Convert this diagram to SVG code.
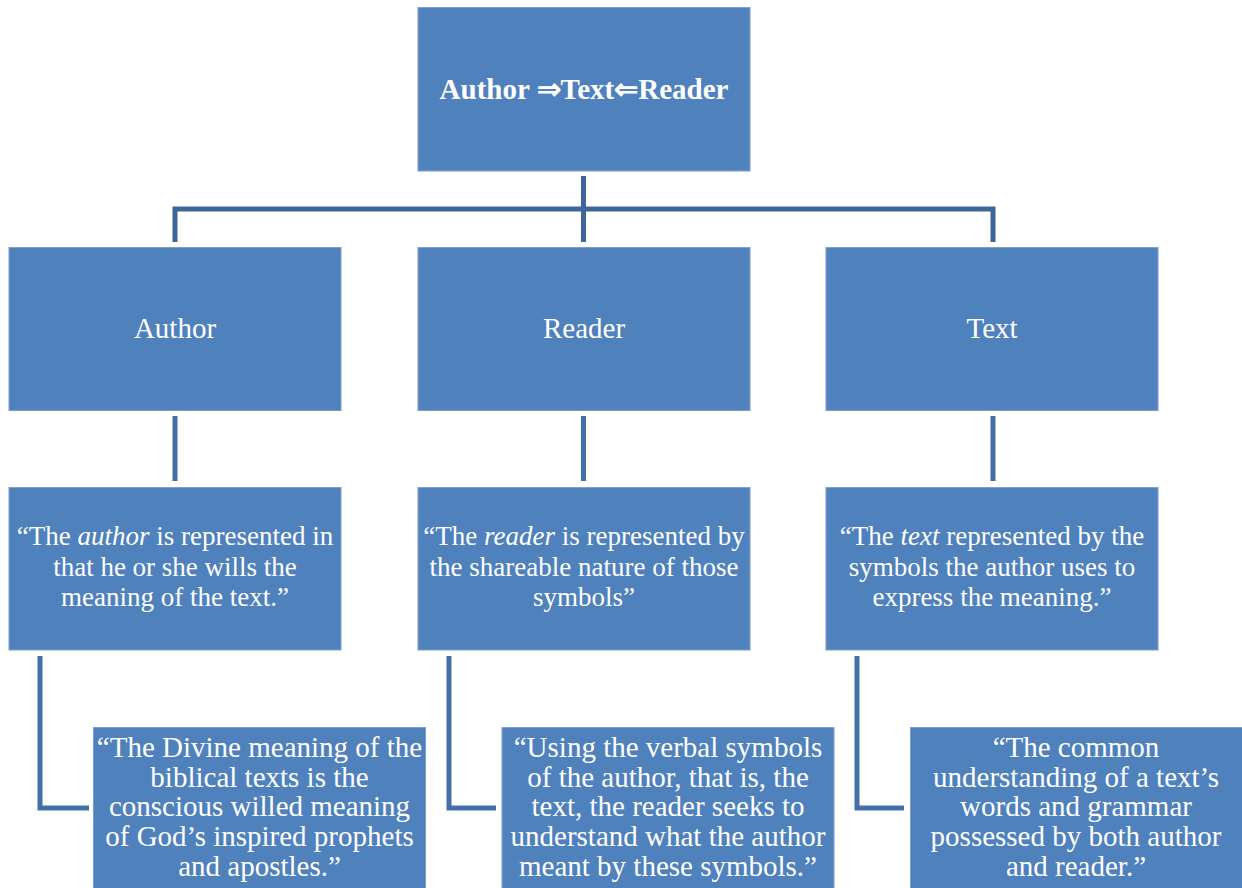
<svg xmlns="http://www.w3.org/2000/svg" width="1242" height="888" viewBox="0 0 1242 888">
<style>
.box{fill:#4F81BD;stroke:#7F9FCF;stroke-width:1}
.t{fill:#fff;font-family:"Liberation Serif","Times New Roman",serif;text-anchor:middle}
.g{font-size:27px}
.q{font-size:29px}
.h{font-size:29px}
.c{fill:none;stroke:#4470A8;stroke-width:5}
</style>
<rect width="1242" height="888" fill="#fff"/>
<g id="connectors">
<path class="c" style="stroke:#3E6698" d="M583.5 176V242M175 242V209H993V242"/>
<path class="c" d="M175 416V481M583.5 416V481M993 416V481"/>
<path class="c" d="M40 656V808H89M449 656V808H496M857 656V808H904"/>
</g>
<g id="root">
<rect class="box" x="418" y="7.5" width="332" height="163.5"/>
<text class="t" x="584" y="99" style="font-size:29px;font-weight:bold">Author ⇒Text⇐Reader</text>
</g>
<g id="author">
<rect class="box" x="9" y="247.5" width="332" height="163"/>
<text class="t h" x="175" y="338">Author</text>
</g>
<g id="reader">
<rect class="box" x="418" y="247.5" width="332" height="163"/>
<text class="t h" x="584" y="338">Reader</text>
</g>
<g id="text">
<rect class="box" x="826" y="247.5" width="332" height="163"/>
<text class="t h" x="992" y="338">Text</text>
</g>
<g id="author-quote">
<rect class="box" x="9" y="487.5" width="332" height="162.5"/>
<text class="t g" x="175" y="545">“The <tspan font-style="italic">author</tspan> is represented in</text>
<text class="t g" x="175" y="575.5">that he or she wills the</text>
<text class="t g" x="175" y="606">meaning of the text.”</text>
</g>
<g id="reader-quote">
<rect class="box" x="418" y="487.5" width="332" height="162.5"/>
<text class="t g" x="584" y="545">“The <tspan font-style="italic">reader</tspan> is represented by</text>
<text class="t g" x="584" y="575.5">the shareable nature of those</text>
<text class="t g" x="584" y="606">symbols”</text>
</g>
<g id="text-quote">
<rect class="box" x="826" y="487.5" width="332" height="162.5"/>
<text class="t g" x="992" y="545">“The <tspan font-style="italic">text</tspan> represented by the</text>
<text class="t g" x="992" y="575.5">symbols the author uses to</text>
<text class="t g" x="992" y="606">express the meaning.”</text>
</g>
<g id="author-detail">
<rect class="box" x="93.5" y="727.5" width="332" height="164"/>
<text class="t q" x="259.5" y="757">“The Divine meaning of the</text>
<text class="t q" x="259.5" y="787">biblical texts is the</text>
<text class="t q" x="259.5" y="816">conscious willed meaning</text>
<text class="t q" x="259.5" y="846">of God’s inspired prophets</text>
<text class="t q" x="259.5" y="876">and apostles.”</text>
</g>
<g id="reader-detail">
<rect class="box" x="502" y="727.5" width="332" height="164"/>
<text class="t q" x="668" y="757">“Using the verbal symbols</text>
<text class="t q" x="668" y="787">of the author, that is, the</text>
<text class="t q" x="668" y="816">text, the reader seeks to</text>
<text class="t q" x="668" y="846">understand what the author</text>
<text class="t q" x="668" y="876">meant by these symbols.”</text>
</g>
<g id="text-detail">
<rect class="box" x="910.5" y="727.5" width="332" height="164"/>
<text class="t q" x="1076" y="757">“The common</text>
<text class="t q" x="1076" y="787">understanding of a text’s</text>
<text class="t q" x="1076" y="816">words and grammar</text>
<text class="t q" x="1076" y="846">possessed by both author</text>
<text class="t q" x="1076" y="876">and reader.”</text>
</g>
</svg>
